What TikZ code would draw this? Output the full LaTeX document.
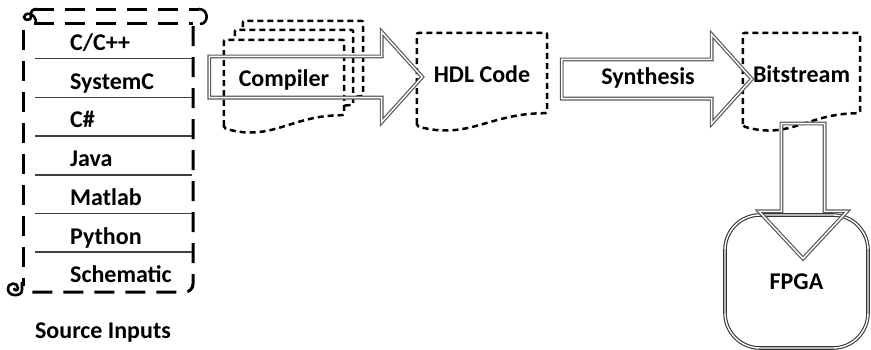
\documentclass[tikz,border=0pt]{standalone}
\usepackage{fontspec}
\setmainfont{Carlito}
\usetikzlibrary{shapes.arrows,positioning,calc,backgrounds}

% document outline with a wavy bottom, drawn behind the text
\newcommand{\docoutline}[1]{%
  \begin{pgfonlayer}{background}
  \draw[docedge] (#1.south west) -- (#1.north west) -- (#1.north east) -- ($(#1.south east)+(0,-13)$)
    .. controls ($(#1.south west)!0.55!(#1.south east)+(0,-13)$) and ($(#1.south west)!0.4!(#1.south east)+(0,14)$) .. (#1.south west) -- cycle;
  \end{pgfonlayer}}

\begin{document}
\begin{tikzpicture}[
  x=1pt, y=-1pt,
  txt/.style={font=\fontsize{24}{28}\selectfont\bfseries},
  item/.style={txt, anchor=west, inner sep=0pt, text height=16pt, text depth=5pt},
  sepline/.style={draw=black!75, line width=1.5pt},
  scrolledge/.style={line width=3pt, dash pattern=on 20pt off 11pt},
  curl/.style={line width=2.6pt},
  doc/.style={txt, inner sep=0pt, text height=16pt, text depth=11pt, minimum height=88pt},
  docedge/.style={draw, fill=white, line width=2.5pt, dash pattern=on 6pt off 4pt, rounded corners=2pt},
  blockarrow/.style={single arrow, draw=black!65, double=white, double distance=1.4pt, line width=1.2pt,
    single arrow tip angle=96, text height=14pt, text depth=4pt, inner xsep=0pt},
  fpgabox/.style={txt, draw=black!80, double=white, double distance=1.4pt, line width=1.1pt,
    rounded corners=35pt, minimum width=143pt, minimum height=133pt}
]
\useasboundingbox (0,0) rectangle (871,349);

% scroll of source languages
\draw[scrolledge] (34,9) -- (199,9);
\draw[curl] (199,9) .. controls (209,9) and (209,24) .. (200,24);
\draw[scrolledge] (34,23) -- (193,23);
\draw[scrolledge, rounded corners=8pt] (193,26) -- (193,292) -- (27,292);
\draw[scrolledge] (23,30) -- (23,286);
\draw[curl] (36,23) .. controls (36,12) and (24,12) .. (24,17) .. controls (24,21) and (32,21) .. (31,16)
  .. controls (30,10) and (34,9) .. (37,9);
\draw[curl] (22,282) -- (22,290) .. controls (22,297) and (8,297) .. (8,289) .. controls (8,282) and (18,282) .. (18,288)
  .. controls (18,291) and (14,291) .. (14,288);

\node[item] (src1) at (70,45) {C/C++};
\node[item, below=38.7pt of src1.west, anchor=west] (src2) {SystemC};
\node[item, below=38.7pt of src2.west, anchor=west] (src3) {C\#};
\node[item, below=38.7pt of src3.west, anchor=west] (src4) {Java};
\node[item, below=38.7pt of src4.west, anchor=west] (src5) {Matlab};
\node[item, below=38.7pt of src5.west, anchor=west] (src6) {Python};
\node[item, below=38.7pt of src6.west, anchor=west] (src7) {Schematic};
\foreach \n in {1,...,6}
  \draw[sepline] (35,0 |- src\n.south) ++(0,3) -- ++(157,0);
\node[txt] (srclabel) at (103,333) {Source Inputs};

% compiler stack
\node[doc, minimum width=120pt] (comp3) at (303,65) {};
\docoutline{comp3}
\node[doc, minimum width=118pt] (comp2) at (294,74) {};
\docoutline{comp2}
\node[doc, minimum width=120pt] (comp1) at (284,84) {Compiler};
\docoutline{comp1}
\node[blockarrow, minimum height=213pt, single arrow head extend=24.5pt, inner ysep=11pt] (comparrow) at (306.5,77) {};

% hdl and synthesis
\node[doc, minimum width=130pt, minimum height=93pt] (hdl) at (482,79.5) {HDL Code};
\docoutline{hdl}
\node[blockarrow, txt, minimum height=190pt, single arrow head extend=25pt, inner ysep=10pt] (synth) at (648,79) {Synthesis};
\node[doc, minimum width=117pt, minimum height=93pt] (bits) at (801.5,79.5) {Bitstream};
\docoutline{bits}

% device
\node[fpgabox] (fpga) at (796.5,281.5) {FPGA};
\node[blockarrow, rotate=-90, single arrow tip angle=86, minimum height=135pt, single arrow head extend=22.5pt, inner ysep=12pt] (progarrow) at (803,179.5) {};
\end{tikzpicture}
\end{document}
